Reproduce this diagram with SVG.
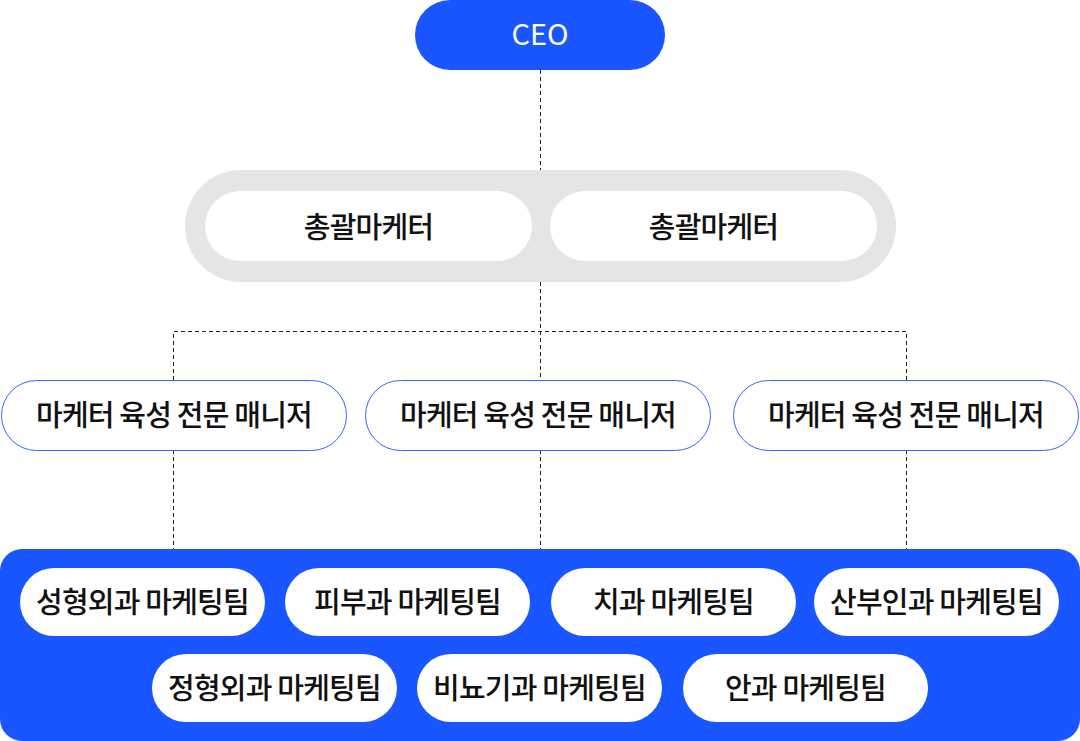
<svg xmlns="http://www.w3.org/2000/svg" width="1080" height="741" viewBox="0 0 1080 741">
<style>
.t{font-family:"Noto Sans CJK KR","Noto Sans",sans-serif;font-size:29px;font-weight:500;fill:#111;text-anchor:middle;dominant-baseline:central;letter-spacing:-0.8px}
.w{fill:#fff}
.mgr{fill:#fff;stroke:#2e6bff;stroke-width:1}
.team{fill:#fff}
.dash{fill:none;stroke:#222;stroke-width:1;stroke-dasharray:4 3}
</style>
<rect width="1080" height="741" fill="#fff"/>
<g id="connectors">
<path class="dash" d="M540.5 70V170M540.5 282V549"/>
<path class="dash" d="M173.5 380V331.5H906.5V380"/>
<path class="dash" d="M173.5 450V549M906.5 450V549"/>
</g>
<g id="ceo">
<rect x="415" y="0" width="250" height="70" rx="35" fill="#1a56ff"/>
<text class="t" x="540" y="32" style="fill:#fff;letter-spacing:0;font-weight:400">CEO</text>
</g>
<g id="general-marketers">
<rect x="185" y="170" width="711" height="112" rx="56" fill="#e5e5e5"/>
<g id="gm1">
<rect x="205" y="191" width="327" height="70" rx="35" class="w"/>
<text class="t" x="368.5" y="224.5">총괄마케터</text>
</g>
<g id="gm2">
<rect x="550" y="191" width="327" height="70" rx="35" class="w"/>
<text class="t" x="713.5" y="224.5">총괄마케터</text>
</g>
</g>
<g id="mgr1">
<rect x="1.5" y="380.5" width="345" height="70" rx="35" class="mgr"/>
<text class="t" x="174" y="413">마케터 육성 전문 매니저</text>
</g>
<g id="mgr2">
<rect x="365.5" y="380.5" width="345" height="70" rx="35" class="mgr"/>
<text class="t" x="538" y="413">마케터 육성 전문 매니저</text>
</g>
<g id="mgr3">
<rect x="733.5" y="380.5" width="345" height="70" rx="35" class="mgr"/>
<text class="t" x="906" y="413">마케터 육성 전문 매니저</text>
</g>
<g id="teams">
<rect x="0" y="549" width="1080" height="192" rx="22" fill="#1a56ff"/>
<g id="team1"><rect x="20" y="568" width="245" height="68" rx="34" class="team"/><text class="t" x="142.5" y="600">성형외과 마케팅팀</text></g>
<g id="team2"><rect x="285" y="568" width="245" height="68" rx="34" class="team"/><text class="t" x="407.5" y="600">피부과 마케팅팀</text></g>
<g id="team3"><rect x="551" y="568" width="245" height="68" rx="34" class="team"/><text class="t" x="673.5" y="600">치과 마케팅팀</text></g>
<g id="team4"><rect x="814" y="568" width="245" height="68" rx="34" class="team"/><text class="t" x="936.5" y="600">산부인과 마케팅팀</text></g>
<g id="team5"><rect x="152" y="654" width="245" height="68" rx="34" class="team"/><text class="t" x="274.5" y="686">정형외과 마케팅팀</text></g>
<g id="team6"><rect x="417" y="654" width="245" height="68" rx="34" class="team"/><text class="t" x="539.5" y="686">비뇨기과 마케팅팀</text></g>
<g id="team7"><rect x="683" y="654" width="245" height="68" rx="34" class="team"/><text class="t" x="805.5" y="686">안과 마케팅팀</text></g>
</g>
</svg>
